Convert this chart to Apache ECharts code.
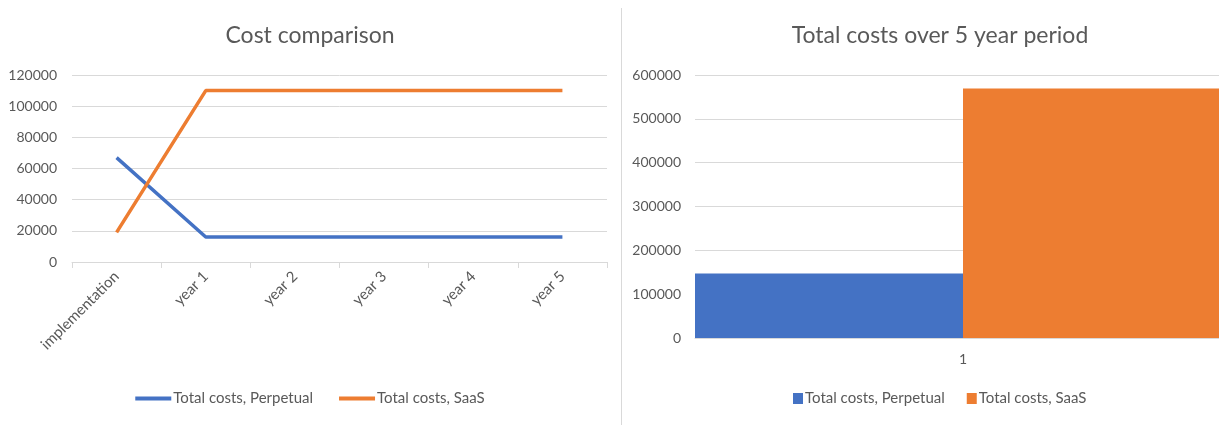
<!DOCTYPE html>
<html>
<head>
<meta charset="utf-8">
<script src="https://cdn.jsdelivr.net/npm/echarts@6/dist/echarts.min.js"></script>
<style>
  html, body { margin: 0; padding: 0; background: #fff; width: 1219px; height: 425px; overflow: hidden; }
  #left { position: absolute; left: 0; top: 0; width: 620px; height: 425px; }
  #sep { position: absolute; left: 621px; top: 8px; width: 1px; height: 417px; background: #d9d9d9; }
  #right { position: absolute; left: 622px; top: 0; width: 609px; height: 425px; }
</style>
</head>
<body>
<div id="left"></div>
<div id="sep"></div>
<div id="right"></div>
<script>
// Yearly cost per licensing model
const periods = ['implementation', 'year 1', 'year 2', 'year 3', 'year 4', 'year 5'];
const perpetualCosts = [67000, 16000, 16000, 16000, 16000, 16000];
const saasCosts = [19000, 110000, 110000, 110000, 110000, 110000];
const seriesNames = ['Total costs, Perpetual', 'Total costs, SaaS'];
const totalCategories = ['1'];
const leftTicks = [0, 120000, 20000];   // min, max, step
const rightTicks = [0, 600000, 100000];

const BLUE = '#4472c4', ORANGE = '#ed7d31', TEXT = '#595959', GRID = '#d9d9d9';
const FONT = 'Lato, "Liberation Sans", sans-serif';

const sum = a => a.reduce((s, v) => s + v, 0);
const perpetualTotal = [sum(perpetualCosts)];
const saasTotal = [sum(saasCosts)];

const plain = v => String(v);
const titleStyle = { color: TEXT, fontSize: 23, fontWeight: 'normal', fontFamily: FONT };
const axisLabel = { color: TEXT, fontSize: 14, fontFamily: FONT };
const legendText = { color: TEXT, fontSize: 15, fontFamily: FONT, padding: [0, 0, 0, -3] };

const left = echarts.init(document.getElementById('left'), null, { renderer: 'canvas' });
left.setOption({
  animation: false,
  title: { text: 'Cost comparison', left: 'center', top: 19, textStyle: titleStyle },
  legend: {
    bottom: 14, left: 'center', itemGap: 26,
    itemWidth: 36, itemHeight: 4, icon: 'rect',
    textStyle: legendText,
    data: seriesNames
  },
  grid: { left: 72, right: 13, top: 75, bottom: 163 },
  xAxis: {
    type: 'category', data: periods, boundaryGap: true,
    axisLine: { lineStyle: { color: GRID } },
    axisTick: { show: true, length: 6, lineStyle: { color: GRID } },
    axisLabel: Object.assign({}, axisLabel, { rotate: 45, margin: 12, fontSize: 15 })
  },
  yAxis: {
    type: 'value', min: leftTicks[0], max: leftTicks[1], interval: leftTicks[2],
    axisLine: { show: false }, axisTick: { show: false },
    splitLine: { lineStyle: { color: GRID } },
    axisLabel: Object.assign({}, axisLabel, { margin: 15, formatter: plain })
  },
  series: [
    { name: seriesNames[0], type: 'line', data: perpetualCosts, symbol: 'none',
      lineStyle: { width: 3.5, color: BLUE }, itemStyle: { color: BLUE } },
    { name: seriesNames[1], type: 'line', data: saasCosts, symbol: 'none',
      lineStyle: { width: 3.5, color: ORANGE }, itemStyle: { color: ORANGE } }
  ]
});

const right = echarts.init(document.getElementById('right'), null, { renderer: 'canvas' });
right.setOption({
  animation: false,
  title: { text: 'Total costs over 5 year period', left: 313, textAlign: 'center', top: 19, textStyle: titleStyle },
  legend: {
    bottom: 14, left: 166, itemGap: 22,
    itemWidth: 10, itemHeight: 11, icon: 'rect',
    textStyle: legendText,
    data: seriesNames
  },
  grid: { left: 73, right: 0, top: 75, bottom: 87 },
  xAxis: {
    type: 'category', data: totalCategories,
    axisLine: { lineStyle: { color: GRID } },
    axisTick: { show: false },
    axisLabel: Object.assign({}, axisLabel, { margin: 14 })
  },
  yAxis: {
    type: 'value', min: rightTicks[0], max: rightTicks[1], interval: rightTicks[2],
    axisLine: { show: false }, axisTick: { show: false },
    splitLine: { lineStyle: { color: GRID } },
    axisLabel: Object.assign({}, axisLabel, { margin: 14, formatter: plain })
  },
  series: [
    { name: seriesNames[0], type: 'bar', data: perpetualTotal, barGap: '0%', barCategoryGap: '0%',
      itemStyle: { color: BLUE } },
    { name: seriesNames[1], type: 'bar', data: saasTotal, barGap: '0%', barCategoryGap: '0%',
      itemStyle: { color: ORANGE } }
  ]
});
</script>
</body>
</html>
